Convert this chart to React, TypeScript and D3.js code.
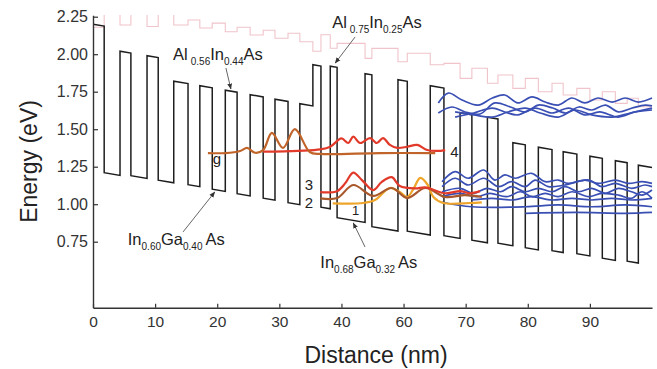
import React, { useEffect, useRef } from "react";
import * as d3 from "d3";

// ---------- data ----------
// layer boundaries (nm) of the band-structure profile
const layerStart = [
  0, 1.8, 4.35, 6.1, 8.7, 10.5, 13.0, 15.3, 17.2, 19.2, 21.3, 23.2, 25.3, 27.4,
  29.3, 31.4, 33.3, 35.4, 36.7, 38.2, 39.3, 43.8, 44.9, 49.1, 50.6, 54.3, 56.5,
  59.1, 61.0, 63.5, 65.2, 67.6, 69.6, 71.7, 73.9, 75.7, 77.9, 80.0, 82.0, 84.1,
  86.0, 87.8,
];
const layerEndNm = 90.0;
// conduction band edge at each layer's left side (eV)
const conductionBand = [
  2.2, 1.21, 2.02, 1.19, 1.99, 1.16, 1.82, 1.13, 1.79, 1.1, 1.76, 1.07, 1.73,
  1.04, 1.7, 1.01, 1.67, 1.93, 0.98, 1.92, 0.91, 1.87, 0.85, 1.83, 0.82, 1.79,
  0.79, 1.61, 0.76, 1.58, 0.74, 1.41, 0.71, 1.38, 0.69, 1.35, 0.67, 1.32, 0.64,
  1.29, 0.62, 1.26,
];
const fieldSlope = 0.007; // eV per nm
// upper (pink) band for each layer (eV)
const upperBand = [
  2.18, 2.3, 2.195, 2.3, 2.185, 2.28, 2.195, 2.228, 2.175, 2.207, 2.15, 2.18,
  2.128, 2.16, 2.106, 2.14, 2.083, 2.02, 2.13, 2.04, 2.072, 1.972, 2.039, 1.95,
  2.006, 1.93, 1.939, 1.839, 1.906, 1.806, 1.861, 1.772, 1.839, 1.75, 1.806,
  1.728, 1.772, 1.695, 1.75, 1.672, 1.706, 1.65,
];

// wavefunctions [nm, eV]
const stateG: [number, number][] = [
  [18.5, 1.341], [21.3, 1.341], [23.7, 1.355], [24.8, 1.375], [26.1, 1.343],
  [27.4, 1.361], [28.8, 1.475], [30.6, 1.375], [32.5, 1.501], [34.9, 1.348],
  [36.6, 1.335], [46.2, 1.341], [55.1, 1.341],
];
const state4: [number, number][] = [
  [27.4, 1.35], [33.0, 1.356], [36.6, 1.365], [38.2, 1.383], [40.0, 1.439],
  [41.1, 1.408], [41.9, 1.45], [43.0, 1.408], [44.6, 1.441], [45.7, 1.408],
  [46.7, 1.441], [47.8, 1.395], [49.0, 1.375], [50.6, 1.383], [52.2, 1.395],
  [53.8, 1.361], [55.4, 1.355], [56.7, 1.361],
];
const state3: [number, number][] = [
  [36.6, 1.08], [39.3, 1.087], [40.6, 1.139], [41.9, 1.211], [43.3, 1.161],
  [45.1, 1.094], [46.5, 1.149], [48.1, 1.18], [49.4, 1.121], [51.9, 1.105],
  [53.5, 1.112], [56.7, 1.073], [59.1, 1.087], [60.7, 1.073], [62.3, 1.087],
];
const state2: [number, number][] = [
  [36.6, 1.039], [39.3, 1.041], [41.9, 1.128], [45.1, 1.055], [48.1, 1.108],
  [50.6, 1.041], [53.5, 1.108], [56.7, 1.048], [59.9, 1.061], [62.6, 1.048],
];
const state1: [number, number][] = [
  [38.6, 1.006], [43.5, 1.008], [45.4, 1.028], [47.8, 1.108], [49.4, 1.081],
  [50.6, 1.048], [51.5, 1.095], [52.7, 1.175], [53.9, 1.128], [54.8, 1.048],
  [56.4, 1.008], [60.7, 1.008], [62.6, 1.012],
];

const blueUpper: [number, number][][] = [
  [[55.6, 1.675], [57.2, 1.741], [59.4, 1.695], [62.0, 1.661], [64.3, 1.708], [66.3, 1.728], [68.4, 1.675], [70.7, 1.715], [72.8, 1.681], [74.9, 1.661], [77.1, 1.708], [79.2, 1.675], [81.3, 1.708], [83.6, 1.681], [85.7, 1.708], [87.8, 1.681], [90.0, 1.708]],
  [[55.6, 1.608], [57.8, 1.648], [59.9, 1.615], [62.3, 1.601], [64.7, 1.675], [67.2, 1.648], [69.6, 1.615], [71.7, 1.661], [74.0, 1.641], [76.1, 1.608], [78.2, 1.648], [80.3, 1.628], [82.5, 1.661], [84.6, 1.615], [86.8, 1.641], [88.9, 1.661], [90.0, 1.655]],
  [[58.3, 1.581], [61.3, 1.608], [64.3, 1.641], [66.3, 1.615], [68.4, 1.595], [71.2, 1.641], [73.9, 1.608], [76.6, 1.641], [79.2, 1.595], [81.6, 1.615], [84.6, 1.581], [87.3, 1.615], [90.0, 1.628]],
  [[58.3, 1.615], [61.3, 1.595], [64.3, 1.581], [66.8, 1.615], [69.6, 1.641], [72.0, 1.608], [74.9, 1.581], [77.6, 1.628], [80.3, 1.595], [83.6, 1.581], [86.5, 1.608], [90.0, 1.641]],
];
const blueLower: [number, number][][] = [
  [[56.2, 1.15], [58.3, 1.217], [60.4, 1.173], [62.9, 1.228], [64.7, 1.161], [66.3, 1.195], [68.0, 1.173], [70.6, 1.206], [72.8, 1.15], [74.9, 1.161], [76.5, 1.139], [79.2, 1.161], [81.4, 1.139], [84.1, 1.161], [86.2, 1.139], [88.4, 1.15], [90.0, 1.139]],
  [[56.2, 1.117], [58.3, 1.173], [60.4, 1.128], [62.9, 1.173], [65.3, 1.117], [67.4, 1.15], [69.6, 1.117], [71.2, 1.161], [73.3, 1.117], [76.0, 1.128], [79.8, 1.161], [81.9, 1.117], [84.1, 1.139], [86.7, 1.106], [88.9, 1.128], [90.0, 1.117]],
  [[56.2, 1.083], [59.1, 1.106], [61.3, 1.072], [63.4, 1.106], [65.6, 1.083], [67.4, 1.117], [69.6, 1.083], [71.7, 1.106], [73.9, 1.083], [76.0, 1.117], [78.2, 1.083], [80.3, 1.106], [82.5, 1.072], [84.6, 1.106], [86.7, 1.083], [88.4, 1.061], [90.0, 1.095]],
  [[56.2, 1.05], [59.1, 1.072], [61.8, 1.05], [63.9, 1.072], [66.6, 1.05], [68.8, 1.083], [70.7, 1.05], [72.8, 1.072], [74.9, 1.05], [77.1, 1.083], [79.8, 1.05], [81.9, 1.072], [84.6, 1.061], [86.7, 1.039], [88.4, 1.083], [90.0, 1.039]],
  [[61.0, 1.028], [64.2, 1.039], [67.4, 1.028], [70.6, 1.05], [73.9, 1.028], [77.1, 1.039], [80.3, 1.028], [83.5, 1.039], [86.7, 1.028], [90.0, 1.039]],
  [[56.2, 1.013], [61.0, 0.983], [69.6, 0.983], [74.9, 0.995], [80.3, 0.983], [85.7, 0.995], [90.0, 0.983]],
  [[69.6, 0.939], [77.7, 0.945], [85.7, 0.939], [90.0, 0.945]],
];

// axis ticks
const xTickValues = [0, 10, 20, 30, 40, 50, 60, 70, 80];
const xTickLabels = ["0", "10", "20", "30", "40", "60", "70", "80", "90"];
const yTickValues = [0.75, 1.0, 1.25, 1.5, 1.75, 2.0, 2.25];

// ---------- layout ----------
const W = 657;
const H = 369;
const FONT = "'Liberation Sans', Arial, Helvetica, sans-serif";

const x = d3.scaleLinear().domain([0, 90]).range([93, 652]);
const y = d3.scaleLinear().domain([0.31, 2.26]).range([307.7, 15.2]);

function bandPoints(starts: number[], vals: number[], end: number, slope: number) {
  const pts: [number, number][] = [];
  for (let i = 0; i < starts.length; i++) {
    const x0 = starts[i];
    const x1 = i + 1 < starts.length ? starts[i + 1] : end;
    pts.push([x0, vals[i]]);
    pts.push([x1, vals[i] - slope * (x1 - x0)]);
  }
  return pts;
}

const straight = d3
  .line<[number, number]>()
  .x((d) => x(d[0]))
  .y((d) => y(d[1]));
const smooth = d3
  .line<[number, number]>()
  .x((d) => x(d[0]))
  .y((d) => y(d[1]))
  .curve(d3.curveCatmullRom.alpha(0.5));

export default function App() {
  const xAxisRef = useRef<SVGGElement>(null);
  const yAxisRef = useRef<SVGGElement>(null);

  useEffect(() => {
    const gx = d3.select(xAxisRef.current!);
    gx.call(
      d3
        .axisBottom(x)
        .tickValues(xTickValues)
        .tickFormat((_d, i) => xTickLabels[i])
        .tickSizeInner(-4)
        .tickSizeOuter(0)
        .tickPadding(8)
    );
    gx.selectAll("text").attr("font-size", 15.5).attr("fill", "#333").attr("font-family", FONT);
    gx.selectAll("line").attr("stroke", "#333").attr("stroke-width", 1.2);
    gx.select(".domain").attr("stroke", "#333").attr("stroke-width", 1.4);

    const gy = d3.select(yAxisRef.current!);
    gy.call(
      d3
        .axisLeft(y)
        .tickValues(yTickValues)
        .tickFormat(d3.format(".2f"))
        .tickSizeInner(-5)
        .tickSizeOuter(0)
        .tickPadding(5)
    );
    gy.selectAll("text").attr("font-size", 16).attr("fill", "#333").attr("font-family", FONT);
    gy.selectAll("line").attr("stroke", "#333").attr("stroke-width", 1.2);
    gy.select(".domain").attr("stroke", "#333").attr("stroke-width", 1.4);
  }, []);

  const cbPts = bandPoints(layerStart, conductionBand, layerEndNm, fieldSlope);
  const ubPts = bandPoints(layerStart, upperBand, layerEndNm, 0);

  const sub = 10;
  const big = 16.5;

  return (
    <svg
      width={W}
      height={H}
      style={{ position: "fixed", left: 0, top: 0, background: "#fff" }}
      fontFamily={FONT}
    >
      <defs>
        <clipPath id="plotClip">
          <rect x={x(0)} y={y(2.262)} width={x(90) - x(0) + 4} height={y(0.31) - y(2.262)} />
        </clipPath>
        <marker id="arrow" viewBox="0 0 10 10" refX="9" refY="5" markerWidth="6" markerHeight="6" orient="auto">
          <path d="M0,1 L10,5 L0,9 z" fill="#333" />
        </marker>
      </defs>

      <g clipPath="url(#plotClip)">
        <path d={straight(ubPts) || ""} fill="none" stroke="#f0c4ca" strokeWidth={1.1} />
        <path d={straight(cbPts) || ""} fill="none" stroke="#1e1e1e" strokeWidth={1.5} />

        {blueUpper.map((c, i) => (
          <path key={"bu" + i} d={smooth(c) || ""} fill="none" stroke="#3a4fb4" strokeWidth={1.7} />
        ))}
        {blueLower.map((c, i) => (
          <path key={"bl" + i} d={smooth(c) || ""} fill="none" stroke="#3a4fb4" strokeWidth={1.7} />
        ))}

        <path d={smooth(state1) || ""} fill="none" stroke="#eea52a" strokeWidth={2.2} />
        <path d={smooth(state2) || ""} fill="none" stroke="#a9582c" strokeWidth={2.2} />
        <path d={smooth(state3) || ""} fill="none" stroke="#e23a2a" strokeWidth={2.2} />
        <path d={smooth(state4) || ""} fill="none" stroke="#e23a2a" strokeWidth={2.2} />
        <path d={smooth(stateG) || ""} fill="none" stroke="#c0642a" strokeWidth={2.2} />
      </g>

      <g ref={xAxisRef} transform={`translate(0,${y(0.31)})`} />
      <g ref={yAxisRef} transform={`translate(${x(0)},0)`} />

      {/* state labels */}
      <g fontSize={15} fill="#222">
        <text x={x(19.3)} y={y(1.268)}>g</text>
        <text x={x(34.1)} y={y(1.095)}>3</text>
        <text x={x(34.1)} y={y(0.975)}>2</text>
        <text x={x(41.7)} y={y(0.928)} fontSize={13}>1</text>
        <text x={x(57.5)} y={y(1.315)}>4</text>
      </g>

      {/* material annotations */}
      <g fill="#222" fontSize={big}>
        <text x={x(12.9)} y={y(1.961)}>
          Al<tspan fontSize={sub} dx={3} dy={5}>0.56</tspan>
          <tspan dy={-5}>In</tspan>
          <tspan fontSize={sub} dy={5}>0.44</tspan>
          <tspan dy={-5}>As</tspan>
        </text>
        <text x={x(38.5)} y={y(2.175)}>
          Al<tspan fontSize={sub} dx={3} dy={5}>0.75</tspan>
          <tspan dy={-5}>In</tspan>
          <tspan fontSize={sub} dy={5}>0.25</tspan>
          <tspan dy={-5}>As</tspan>
        </text>
        <text x={x(5.6)} y={y(0.728)}>
          In<tspan fontSize={sub} dy={5}>0.60</tspan>
          <tspan dy={-5}>Ga</tspan>
          <tspan fontSize={sub} dy={5}>0.40</tspan>
          <tspan dx={3} dy={-5}>As</tspan>
        </text>
        <text x={x(36.6)} y={y(0.575)}>
          In<tspan fontSize={sub} dy={5}>0.68</tspan>
          <tspan dy={-5}>Ga</tspan>
          <tspan fontSize={sub} dy={5}>0.32</tspan>
          <tspan dx={3} dy={-5}>As</tspan>
        </text>
      </g>
      <g stroke="#666" strokeWidth={1}>
        <line x1={x(21.4)} y1={y(1.908)} x2={x(22.2)} y2={y(1.768)} markerEnd="url(#arrow)" />
        <line x1={x(42.2)} y1={y(2.115)} x2={x(39.0)} y2={y(1.941)} markerEnd="url(#arrow)" />
        <line x1={x(14.5)} y1={y(0.815)} x2={x(19.6)} y2={y(1.081)} markerEnd="url(#arrow)" />
        <line x1={x(43.8)} y1={y(0.715)} x2={x(41.9)} y2={y(0.875)} markerEnd="url(#arrow)" />
      </g>

      {/* axis titles */}
      <text
        transform={`translate(37,${(y(0.31) + y(2.26)) / 2}) rotate(-90)`}
        textAnchor="middle"
        fontSize={23}
        fill="#222"
      >
        Energy (eV)
      </text>
      <text x={376} y={363} textAnchor="middle" fontSize={23} fill="#222">
        Distance (nm)
      </text>
    </svg>
  );
}
